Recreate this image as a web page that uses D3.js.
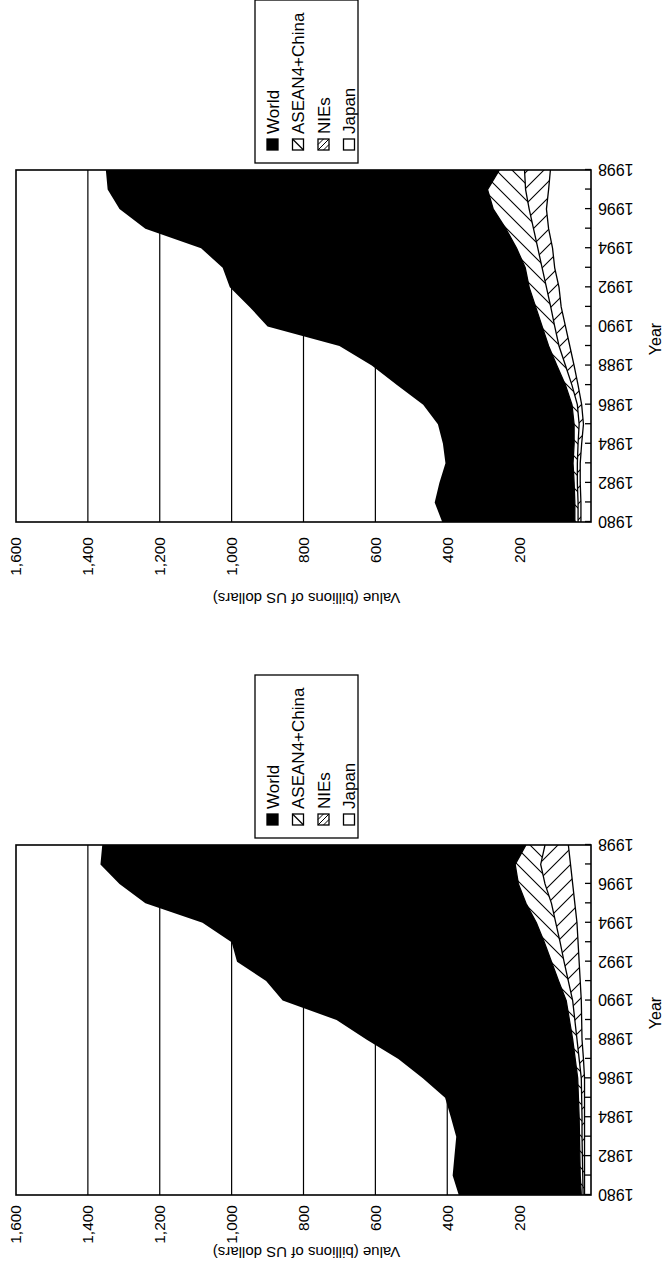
<!DOCTYPE html>
<html>
<head>
<meta charset="utf-8">
<script src="https://cdn.jsdelivr.net/npm/d3@7"></script>
<style>
  body { margin: 0; background: #fff; }
  text { font-family: "Liberation Sans", Arial, sans-serif; fill: #000; }
</style>
</head>
<body>
<div id="chart"></div>
<script>
// categories
var years = [1980, 1981, 1982, 1983, 1984, 1985, 1986, 1987, 1988, 1989,
             1990, 1991, 1992, 1993, 1994, 1995, 1996, 1997, 1998];
var yearLabels = [1980, 1982, 1984, 1986, 1988, 1990, 1992, 1994, 1996, 1998];
var valueTicks = [200, 400, 600, 800, 1000, 1200, 1400, 1600];
var seriesNames = ["World", "ASEAN4+China", "NIEs", "Japan"];

// upper chart (billions of US dollars)
var worldTop = [414, 435, 422, 405, 412, 426, 467, 540, 610, 700, 900, 950, 1005, 1025, 1085, 1240, 1312, 1345, 1350];
var aseanTop = [45, 45, 47, 50, 47, 47, 53, 71, 95, 118, 136, 154, 172, 183, 207, 237, 272, 288, 255];
var niesTop  = [36, 36, 38, 38, 36, 33, 38, 53, 71, 89, 101, 112, 124, 136, 148, 160, 172, 182, 185];
var japanTop = [28, 28, 30, 30, 26, 21, 26, 36, 47, 59, 71, 83, 89, 101, 107, 118, 124, 118, 113];

// lower chart
var worldBottom = [368, 385, 380, 375, 390, 406, 468, 536, 625, 708, 858, 904, 985, 1000, 1081, 1240, 1312, 1365, 1360];
var aseanBottom = [27, 30, 31, 32, 33, 35, 37, 44, 51, 60, 69, 90, 110, 130, 152, 181, 202, 211, 181];
var niesBottom  = [22, 23, 24, 25, 25, 26, 27, 33, 39, 45, 51, 63, 75, 86, 98, 110, 128, 140, 128];
var japanBottom = [18, 18, 18, 18, 18, 18, 18, 21, 25, 26, 27, 30, 33, 36, 39, 45, 51, 57, 63];

var svg = d3.select("#chart")
    .append("svg")
    .attr("width", 664)
    .attr("height", 1262)
    .style("display", "block");

svg.append("rect").attr("width", 664).attr("height", 1262).attr("fill", "#fff");

// hatch patterns (drawn in the chart's own frame, which is turned a quarter)
var defs = svg.append("defs");
function hatch(id, d) {
    var p = defs.append("pattern")
        .attr("id", id)
        .attr("patternUnits", "userSpaceOnUse")
        .attr("width", 16).attr("height", 16);
    p.append("rect").attr("width", 16).attr("height", 16).attr("fill", "#fff");
    p.append("path").attr("d", d).attr("stroke", "#000").attr("stroke-width", 1.1).attr("fill", "none");
}
hatch("hatchAsean", "M0,16L16,0M-4,4L4,-4M12,20L20,12");
hatch("hatchNies", "M0,0L16,16M-4,12L4,20M12,-4L20,4");

var fills = ["#000", "url(#hatchAsean)", "url(#hatchNies)", "#fff"];

function drawChart(opt) {
    var W = opt.w, H = 575;
    var rows = [opt.world, opt.asean, opt.nies, opt.japan];

    var g = svg.append("g")
        .attr("transform", "translate(16," + opt.bottom + ") rotate(-90)");

    var x = d3.scaleLinear().domain([1980, 1998]).range([0, W]);
    var y = d3.scaleLinear().domain([0, 1600]).range([H, 0]);

    // gridlines
    g.selectAll(".grid")
        .data(valueTicks.slice(0, -1))
        .enter().append("line")
        .attr("x1", 0).attr("x2", W)
        .attr("y1", d => y(d)).attr("y2", d => y(d))
        .attr("stroke", "#000").attr("stroke-width", 1.2);

    var area = d3.area()
        .x((d, i) => x(years[i]))
        .y0(H)
        .y1(d => y(d));
    var line = d3.line()
        .x((d, i) => x(years[i]))
        .y(d => y(d));

    rows.forEach(function (vals, k) {
        g.append("path")
            .attr("d", area(vals))
            .attr("fill", fills[k]);
        if (k > 0) {
            g.append("path")
                .attr("d", line(vals))
                .attr("fill", "none")
                .attr("stroke", "#000")
                .attr("stroke-width", 1.3);
        }
    });

    // plot border
    g.append("rect")
        .attr("width", W).attr("height", H)
        .attr("fill", "none").attr("stroke", "#000").attr("stroke-width", 1.6);

    // year axis
    var xAxis = g.append("g")
        .attr("transform", "translate(0," + H + ")")
        .call(d3.axisBottom(x)
            .tickValues(years)
            .tickSize(-6)
            .tickFormat(d => yearLabels.indexOf(d) >= 0 ? d : ""));
    xAxis.select(".domain").remove();
    xAxis.selectAll("line").attr("stroke", "#000").attr("stroke-width", 1.3);
    xAxis.selectAll("text")
        .attr("transform", "rotate(-90)")
        .attr("text-anchor", "end")
        .attr("x", -7).attr("y", 0).attr("dy", "0.35em")
        .style("font-size", "16px");

    // value axis
    var yAxis = g.append("g")
        .call(d3.axisLeft(y)
            .tickValues(valueTicks)
            .tickSize(0)
            .tickPadding(opt.pad)
            .tickFormat(d3.format(",")));
    yAxis.select(".domain").remove();
    yAxis.selectAll("text").style("font-size", "15.5px");

    g.append("text")
        .attr("transform", "translate(" + opt.titleX + "," + (H / 2 + 3) + ") rotate(-90)")
        .attr("text-anchor", "middle")
        .attr("dy", "0.35em")
        .style("font-size", "15px")
        .text("Value (billions of US dollars)");

    g.append("text")
        .attr("x", W / 2 + 7).attr("y", 639)
        .attr("text-anchor", "middle")
        .attr("dy", "0.35em")
        .style("font-size", "16px")
        .text("Year");

    // legend
    var leg = g.append("g").attr("transform", "translate(" + (W + 7) + ",239)");
    leg.append("rect")
        .attr("width", 163).attr("height", 103)
        .attr("fill", "#fff").attr("stroke", "#000").attr("stroke-width", 1.3);
    var item = leg.selectAll(".item")
        .data(seriesNames)
        .enter().append("g")
        .attr("transform", (d, i) => "translate(13," + (12 + i * 25.5) + ")");
    item.append("rect")
        .attr("width", 11).attr("height", 11)
        .attr("fill", (d, i) => i === 0 ? "#000" : "#fff")
        .attr("stroke", "#000").attr("stroke-width", 1.3);
    item.filter((d, i) => i === 1).append("path")
        .attr("d", "M0,11L11,0").attr("stroke", "#000").attr("stroke-width", 1.2);
    item.filter((d, i) => i === 2).append("path")
        .attr("d", "M0,0L11,11M0,5.5L5.5,11M5.5,0L11,5.5").attr("stroke", "#000");
    item.append("text")
        .attr("x", 16).attr("y", 5.5).attr("dy", "0.36em")
        .style("font-size", "17px")
        .text(d => d);
}

drawChart({ bottom: 522, w: 352, pad: 15, titleX: -76,
    world: worldTop, asean: aseanTop, nies: niesTop, japan: japanTop });
drawChart({ bottom: 1195, w: 350, pad: 10, titleX: -57,
    world: worldBottom, asean: aseanBottom, nies: niesBottom, japan: japanBottom });
</script>
</body>
</html>
